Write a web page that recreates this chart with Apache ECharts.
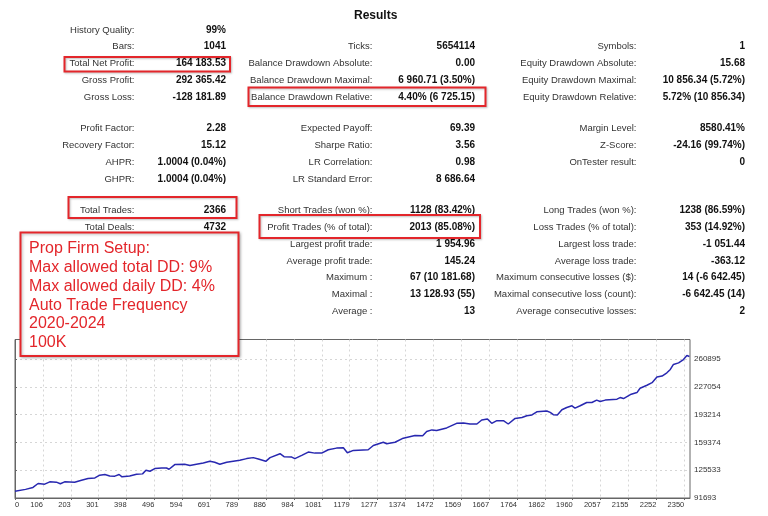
<!DOCTYPE html>
<html>
<head>
<meta http-equiv="Content-Type" content="text/html; charset=utf-8" />
<title>Results</title>
<style type="text/css">
  html, body {margin: 0; padding: 0; background: #fff;}
  #main {width: 768px; height: 516px;}
</style>
<script type="text/javascript" src="https://cdn.jsdelivr.net/npm/echarts@6.0.0/dist/echarts.min.js"></script>
</head>
<body>
<div id="main"></div>
<script type="text/javascript">
// report table, three columns of label / value
var COL1_LABELS = ['History Quality:', 'Bars:', 'Total Net Profit:', 'Gross Profit:', 'Gross Loss:',
  'Profit Factor:', 'Recovery Factor:', 'AHPR:', 'GHPR:',
  'Total Trades:', 'Total Deals:', '', '', '', '', ''];
var COL1_VALUES = ['99%', '1041', '164 183.53', '292 365.42', '-128 181.89',
  '2.28', '15.12', '1.0004 (0.04%)', '1.0004 (0.04%)',
  '2366', '4732', '', '', '', '', ''];
var COL2_LABELS = ['', 'Ticks:', 'Balance Drawdown Absolute:', 'Balance Drawdown Maximal:', 'Balance Drawdown Relative:',
  'Expected Payoff:', 'Sharpe Ratio:', 'LR Correlation:', 'LR Standard Error:',
  'Short Trades (won %):', 'Profit Trades (% of total):', 'Largest profit trade:', 'Average profit trade:',
  'Maximum :', 'Maximal :', 'Average :'];
var COL2_VALUES = ['', '5654114', '0.00', '6 960.71 (3.50%)', '4.40% (6 725.15)',
  '69.39', '3.56', '0.98', '8 686.64',
  '1128 (83.42%)', '2013 (85.08%)', '1 954.96', '145.24',
  '67 (10 181.68)', '13 128.93 (55)', '13'];
var COL3_LABELS = ['', 'Symbols:', 'Equity Drawdown Absolute:', 'Equity Drawdown Maximal:', 'Equity Drawdown Relative:',
  'Margin Level:', 'Z-Score:', 'OnTester result:', '',
  'Long Trades (won %):', 'Loss Trades (% of total):', 'Largest loss trade:', 'Average loss trade:',
  'Maximum consecutive losses ($):', 'Maximal consecutive loss (count):', 'Average consecutive losses:'];
var COL3_VALUES = ['', '1', '15.68', '10 856.34 (5.72%)', '5.72% (10 856.34)',
  '8580.41%', '-24.16 (99.74%)', '0', '',
  '1238 (86.59%)', '353 (14.92%)', '-1 051.44', '-363.12',
  '14 (-6 642.45)', '-6 642.45 (14)', '2'];

var NOTE_LINES = ['Prop Firm Setup:', 'Max allowed total DD: 9%', 'Max allowed daily DD: 4%',
  'Auto Trade Frequency', '2020-2024', '100K'];

// balance curve
var TRADES = [0, 37, 63, 81, 104, 122, 145, 159, 174, 209, 233, 256, 280, 297, 315, 332, 350, 365, 375, 402,
  426, 447, 459, 473, 490, 514, 531, 540, 560, 595, 613, 636, 660, 683, 700, 718, 742, 765, 788, 812,
  835, 853, 879, 894, 929, 943, 970, 981, 1005, 1028, 1051, 1075, 1098, 1127, 1151, 1165, 1186, 1238, 1256, 1291,
  1303, 1332, 1361, 1402, 1429, 1443, 1461, 1478, 1513, 1548, 1572, 1595, 1619, 1636, 1656, 1671, 1689, 1712, 1729, 1753,
  1777, 1794, 1812, 1829, 1864, 1876, 1887, 1901, 1917, 1934, 1952, 1963, 1981, 2004, 2022, 2039, 2051, 2069, 2110, 2121,
  2133, 2160, 2180, 2191, 2215, 2233, 2250, 2268, 2285, 2297, 2308, 2326, 2343, 2355, 2364];
var BALANCE = [100000, 102200, 104600, 109400, 108600, 111400, 111000, 109000, 111400, 111000, 113400, 115500, 116200, 119500, 120300, 118600, 118300, 120300, 117500, 118600,
  120700, 121100, 125500, 124300, 127600, 128300, 128300, 126700, 132400, 132800, 131200, 132800, 134400, 136400, 135200, 132800, 135200, 136400, 137600, 139700,
  140900, 139200, 136400, 140900, 145700, 142100, 141600, 139700, 143700, 147700, 146400, 146400, 150500, 152500, 153000, 146900, 149700, 150500, 155700, 159700,
  157800, 159700, 164600, 167800, 167500, 172700, 174700, 173900, 177100, 182700, 183200, 181900, 181900, 186800, 188000, 182700, 186000, 186000, 181900, 188700,
  189900, 192000, 192900, 196800, 197700, 196000, 193200, 192900, 199300, 202000, 204100, 201300, 204100, 208100, 208100, 211000, 209300, 211000, 212200, 214100,
  212900, 218200, 220200, 225500, 229100, 232300, 239100, 240300, 244300, 248400, 254500, 256400, 260500, 265400, 264200];

var X_TICKS = [0, 106, 203, 301, 398, 496, 594, 691, 789, 886, 984, 1081, 1179, 1277, 1374, 1472,
  1569, 1667, 1764, 1862, 1960, 2057, 2155, 2252, 2350];
var Y_TICKS = [91693, 125533, 159374, 193214, 227054, 260895];

// axis scale helpers
var X_MAX = 2366;
var X_STEP = 97.75;
var Y_BASE = Y_TICKS[0];
var Y_STEP = (Y_TICKS[Y_TICKS.length - 1] - Y_TICKS[0]) / (Y_TICKS.length - 1);
var Y_SPAN = 193200;

// layout
var ROW_Y = [30, 46.7, 63.3, 80.3, 97.3, 128.3, 145.3, 162.3, 179, 210, 227.3, 244.3, 261, 277.7, 294.3, 311.7];
var COLS = [
  {labelX: 134.5, valueX: 226, labels: COL1_LABELS, values: COL1_VALUES},
  {labelX: 372.5, valueX: 475, labels: COL2_LABELS, values: COL2_VALUES},
  {labelX: 636.5, valueX: 745, labels: COL3_LABELS, values: COL3_VALUES}
];
var RED = '#e3262b';

var graphic = [];
COLS.forEach(function (col) {
  for (var i = 0; i < ROW_Y.length; i++) {
    if (col.labels[i]) {
      graphic.push({type: 'text', z: 10, style: {
        text: col.labels[i], x: col.labelX, y: ROW_Y[i], align: 'right', verticalAlign: 'middle',
        fontFamily: 'Liberation Sans', fontSize: 9.5, fill: '#333'}});
    }
    if (col.values[i]) {
      graphic.push({type: 'text', z: 10, style: {
        text: col.values[i], x: col.valueX, y: ROW_Y[i], align: 'right', verticalAlign: 'middle',
        fontFamily: 'Liberation Sans', fontSize: 10, fontWeight: 'bold', fill: '#111'}});
    }
  }
});

// red highlight boxes
var boxes = [
  [64.5, 57, 165.5, 14.5],
  [248.5, 87.5, 237, 18.5],
  [68.5, 197, 168, 21],
  [259.5, 215, 220.5, 23]
];
boxes.forEach(function (b) {
  graphic.push({type: 'rect', z: 20, shape: {x: b[0], y: b[1], width: b[2], height: b[3]},
    style: {fill: 'none', stroke: RED, lineWidth: 2,
      shadowBlur: 2, shadowColor: 'rgba(0,0,0,0.25)', shadowOffsetX: 1, shadowOffsetY: 1}});
});

// note box over the chart
graphic.push({type: 'rect', z: 100, shape: {x: 20.5, y: 232.5, width: 218, height: 123.5},
  style: {fill: '#fff', stroke: RED, lineWidth: 2,
    shadowBlur: 3, shadowColor: 'rgba(0,0,0,0.3)', shadowOffsetX: 1, shadowOffsetY: 1}});
NOTE_LINES.forEach(function (t, i) {
  graphic.push({type: 'text', z: 101, style: {
    text: t, x: 29, y: 249 + i * 18.7, align: 'left', verticalAlign: 'middle',
    fontFamily: 'Liberation Sans', fontSize: 16, fill: RED}});
});

var data = TRADES.map(function (t, i) { return [t, BALANCE[i] - Y_BASE]; });

var myChart = echarts.init(document.getElementById('main'));
myChart.setOption({
  animation: false,
  title: {
    text: 'Results', left: 349, top: 5,
    textStyle: {fontFamily: 'Liberation Sans', fontSize: 12, fontWeight: 'bold', color: '#111'}
  },
  graphic: graphic,
  grid: {
    left: 15, top: 339.5, width: 675, height: 158.5,
    show: true, borderColor: '#666', borderWidth: 1
  },
  xAxis: {
    type: 'value', min: 0, max: X_MAX, interval: X_STEP,
    axisLine: {lineStyle: {color: '#666'}},
    axisTick: {show: true, length: 2, lineStyle: {color: '#666'}},
    splitLine: {showMinLine: false, showMaxLine: false, lineStyle: {color: '#d6d6d6', type: [2, 3]}},
    axisLabel: {
      fontFamily: 'Liberation Sans', fontSize: 7.5, color: '#333', margin: 3,
      align: 'right', alignMinLabel: 'left', showMaxLabel: false,
      formatter: function (v) {
        var i = Math.round(v / X_STEP);
        return X_TICKS[i] !== undefined ? String(X_TICKS[i]) : '';
      }
    }
  },
  yAxis: {
    type: 'value', position: 'right', min: 0, max: Y_SPAN, interval: Y_STEP,
    axisLine: {show: true, lineStyle: {color: '#666'}},
    axisTick: {show: true, length: 2, lineStyle: {color: '#666'}},
    splitLine: {showMinLine: false, showMaxLine: false, lineStyle: {color: '#d6d6d6', type: [2, 3]}},
    axisLabel: {
      fontFamily: 'Liberation Sans', fontSize: 8, color: '#333', margin: 4,
      showMaxLabel: false,
      formatter: function (v) {
        var i = Math.round(v / Y_STEP);
        return Y_TICKS[i] !== undefined ? String(Y_TICKS[i]) : '';
      }
    }
  },
  series: [{
    name: 'Balance',
    type: 'line',
    data: data,
    showSymbol: false,
    lineStyle: {color: '#2828b0', width: 1.5}
  }]
});
</script>
</body>
</html>
